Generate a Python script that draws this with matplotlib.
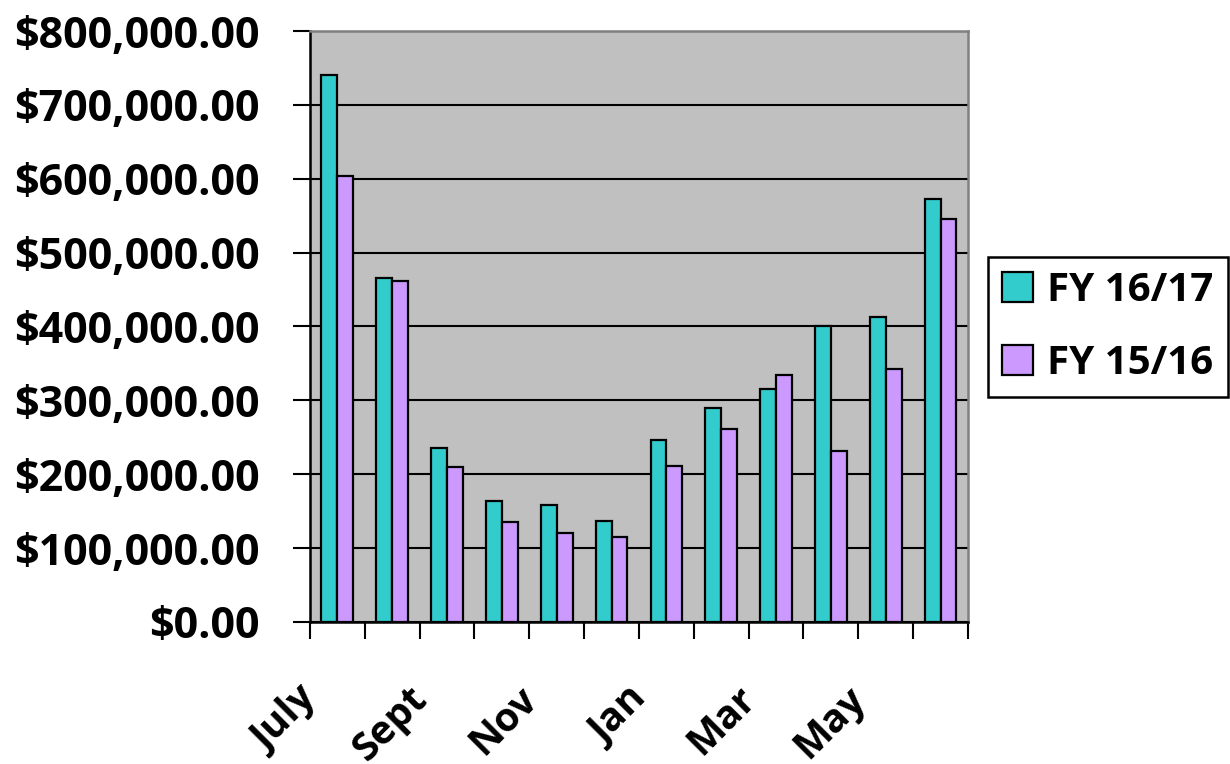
import numpy as np
import matplotlib.pyplot as plt
from matplotlib.ticker import FuncFormatter, MultipleLocator

# monthly totals, FY runs July -> June
months = ["July", "Aug", "Sept", "Oct", "Nov", "Dec",
          "Jan", "Feb", "Mar", "Apr", "May", "June"]
fy1617 = [741000, 465000, 235000, 164000, 159000, 137000,
          247000, 289000, 315000, 401000, 413000, 573000]
fy1516 = [604000, 461000, 210000, 135000, 120000, 115000,
          211000, 261000, 334000, 232000, 342000, 545000]

plt.rcParams['font.family'] = ['Open Sans', 'DejaVu Sans']
plt.rcParams['font.weight'] = 'bold'

fig = plt.figure(figsize=(12.3, 7.64), dpi=100)
ax = fig.add_axes([0.252, 0.1859, 0.535, 0.7735])
ax.set_facecolor('#C0C0C0')

x = np.arange(len(months))
w = 0.29
ax.bar(x - w/2, fy1617, w, color='#33CCCC', edgecolor='black', linewidth=1.6,
       label='FY 16/17', zorder=3)
ax.bar(x + w/2, fy1516, w, color='#CC99FF', edgecolor='black', linewidth=1.6,
       label='FY 15/16', zorder=3)

ax.yaxis.set_major_locator(MultipleLocator(100000))
ax.yaxis.set_major_formatter(FuncFormatter(lambda v, p: "${:,.2f}".format(v)))
ax.grid(axis='y', color='black', linewidth=1.5, zorder=1)
ax.set_axisbelow(True)

# tick marks at category boundaries, every other month labelled
ax.set_xticks(np.arange(-0.5, 12, 1))
ax.set_xticklabels([])
ax.set_xlim(-0.5, 11.5)
ax.set_ylim(0, 800000)
ax.tick_params(axis='x', length=12, width=1.5, direction='out')
trans = ax.get_xaxis_transform()
for i in range(0, len(months), 2):
    ax.text(i - 0.72, -0.097, months[i], transform=trans, rotation=45,
            ha='right', va='top', rotation_mode='anchor', fontsize=28.5,
            fontweight='bold', clip_on=False)
ax.tick_params(axis='y', length=12, width=1.5, direction='out', labelsize=31, pad=24)

for s in ['left', 'bottom']:
    ax.spines[s].set_color('black')
    ax.spines[s].set_linewidth(1.8)
for s in ['top', 'right']:
    ax.spines[s].set_color('#808080')
    ax.spines[s].set_linewidth(1.8)

leg = fig.legend(loc='upper left', bbox_to_anchor=(0.803, 0.664), fontsize=29,
                 frameon=True, fancybox=False, edgecolor='black',
                 handlelength=0.78, handleheight=0.78, handletextpad=0.35,
                 labelspacing=0.85, borderpad=0.35, borderaxespad=0)
leg.get_frame().set_linewidth(1.8)
leg.get_frame().set_alpha(1)

plt.savefig('out.png', dpi=100)
